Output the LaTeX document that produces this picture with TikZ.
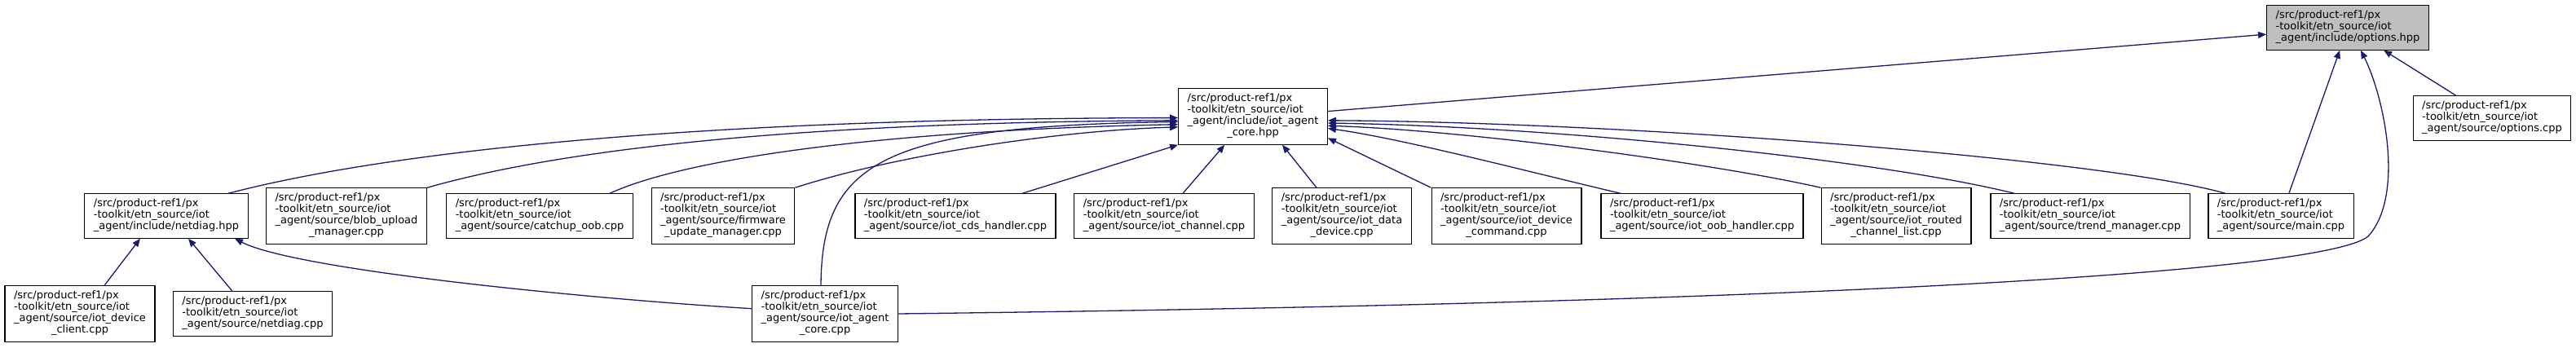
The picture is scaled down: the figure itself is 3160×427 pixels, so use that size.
\documentclass[tikz,border=0pt]{standalone}
\usepackage{fontspec}
\setmainfont{DejaVu Sans}
\usetikzlibrary{arrows.meta}
\newcommand{\fname}[1]{\begin{tabular}{@{}l@{}}/src/product-ref1/px\\-toolkit/etn\_source/iot\\#1\end{tabular}}
\newcommand{\lastc}[1]{\multicolumn{1}{@{}c@{}}{#1}}
\definecolor{edgeblue}{HTML}{191970}
\tikzset{
  file/.style={draw=black, fill=white, line width=1.2pt, inner xsep=11pt, inner ysep=6pt, font=\fontsize{13}{14}\selectfont},
  inc/.style={draw=edgeblue, line width=1.3pt, -{Triangle[length=10pt,width=8pt]}}
}

\begin{document}
\begin{tikzpicture}[x=1pt, y=-1pt]
  \useasboundingbox (0,0) rectangle (3160,427);
  % top
  \node[file, fill=gray!50] (opthpp) at (2880,34) {\fname{\_agent/include/options.hpp}};
  \node[file] (corehpp) at (1537,143) {\fname{\_agent/include/iot\_agent\\\lastc{\_core.hpp}}};
  \node[file] (optcpp) at (3057,145) {\fname{\_agent/source/options.cpp}};
  % row 3
  \node[file] (netdiaghpp) at (204,265) {\fname{\_agent/include/netdiag.hpp}};
  \node[file] (blob) at (425,265) {\fname{\_agent/source/blob\_upload\\\lastc{\_manager.cpp}}};
  \node[file] (catchup) at (662,265) {\fname{\_agent/source/catchup\_oob.cpp}};
  \node[file] (firmware) at (887,265) {\fname{\_agent/source/firmware\\\lastc{\_update\_manager.cpp}}};
  \node[file] (cds) at (1172,265) {\fname{\_agent/source/iot\_cds\_handler.cpp}};
  \node[file] (channel) at (1428,265) {\fname{\_agent/source/iot\_channel.cpp}};
  \node[file] (datadev) at (1646,265) {\fname{\_agent/source/iot\_data\\\lastc{\_device.cpp}}};
  \node[file] (devcmd) at (1848,265) {\fname{\_agent/source/iot\_device\\\lastc{\_command.cpp}}};
  \node[file] (oob) at (2088,265) {\fname{\_agent/source/iot\_oob\_handler.cpp}};
  \node[file] (routed) at (2326,265) {\fname{\_agent/source/iot\_routed\\\lastc{\_channel\_list.cpp}}};
  \node[file] (trend) at (2564,265) {\fname{\_agent/source/trend\_manager.cpp}};
  \node[file] (mainc) at (2798,265) {\fname{\_agent/source/main.cpp}};
  % row 4
  \node[file] (devclient) at (98,385) {\fname{\_agent/source/iot\_device\\\lastc{\_client.cpp}}};
  \node[file] (netdiagcpp) at (310,385) {\fname{\_agent/source/netdiag.cpp}};
  \node[file] (corecpp) at (1012,385) {\fname{\_agent/source/iot\_agent\\\lastc{\_core.cpp}}};
  % into options.hpp
  \draw[inc] (corehpp.4) -- (opthpp);
  \draw[inc] (optcpp) -- (opthpp);
  \draw[inc] (mainc) -- (opthpp);
  \draw[inc] (corecpp.east) .. controls (2200,372) and (2850,335) .. (2905,290) .. controls (2950,240) and (2925,120) .. ([xshift=16pt]opthpp.south);
  % into iot_agent_core.hpp, left side
  \draw[inc] ([xshift=76pt]netdiaghpp.north) .. controls (500,180) and (900,145) .. (corehpp.181);
  \draw[inc] (blob.north east) .. controls (700,180) and (1000,150) .. (corehpp.183);
  \draw[inc] ([xshift=86pt]catchup.north) .. controls (840,195) and (1080,160) .. (corehpp.186);
  \draw[inc] (firmware.north east) .. controls (1100,190) and (1300,160) .. (corehpp.188);
  \draw[inc] ([xshift=-5pt]corecpp.north) .. controls (1008,200) and (1080,155) .. (corehpp.184);
  % from below and right
  \draw[inc] ([xshift=82pt]cds.north) -- (corehpp.south west);
  \draw[inc] ([xshift=23pt]channel.north) -- (corehpp.225);
  \draw[inc] ([xshift=-31pt]datadev.north) -- (corehpp.316);
  \draw[inc] (devcmd.north west) -- (corehpp.344);
  \draw[inc] ([xshift=-100pt]oob.north) .. controls (1880,212) and (1720,170) .. (corehpp.351);
  \draw[inc] (routed.north west) .. controls (2100,200) and (1800,160) .. (corehpp.353);
  \draw[inc] ([xshift=-93pt]trend.north) .. controls (2300,195) and (1900,155) .. (corehpp.355);
  \draw[inc] ([xshift=-68pt]mainc.north) .. controls (2580,195) and (2000,150) .. (corehpp.357);
  % into netdiag.hpp
  \draw[inc] ([xshift=30pt]devclient.north) -- ([xshift=-32pt]netdiaghpp.south);
  \draw[inc] ([xshift=-25pt]netdiagcpp.north) -- ([xshift=27pt]netdiaghpp.south);
  \draw[inc] (corecpp.176) .. controls (700,365) and (360,330) .. ([xshift=84pt]netdiaghpp.south);
\end{tikzpicture}
\end{document}
